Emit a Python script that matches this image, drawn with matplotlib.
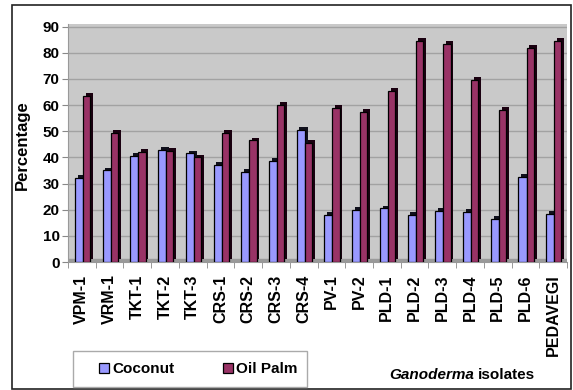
import matplotlib
matplotlib.use("Agg")
import matplotlib.pyplot as plt
from matplotlib.patches import Rectangle
import numpy as np

plt.rcParams['font.family'] = ['Liberation Sans', 'DejaVu Sans']

isolates = ["VPM-1", "VRM-1", "TKT-1", "TKT-2", "TKT-3", "CRS-1", "CRS-2", "CRS-3", "CRS-4",
            "PV-1", "PV-2", "PLD-1", "PLD-2", "PLD-3", "PLD-4", "PLD-5", "PLD-6", "PEDAVEGI"]
coconut = [32, 35, 40.5, 43, 41.5, 37, 34.5, 38.5, 50.5, 18, 20, 20.5, 18, 19.5, 19, 16.5, 32.5, 18.5]
oil_palm = [63.5, 49.5, 42, 42.5, 40, 49.5, 46.5, 60, 45.5, 59, 57.5, 65.5, 84.5, 83.5, 69.5, 58, 82, 84.5]
yticks = list(range(0, 100, 10))

W, H = 573, 390
fig = plt.figure(figsize=(W/100, H/100), dpi=100)
# outer frame
fig.patches.append(Rectangle((12/W, 1/H), (571-12)/W, 384/H, transform=fig.transFigure,
                             fill=False, edgecolor='#222222', linewidth=1.2))

ax = fig.add_axes([68/W, 1-262/H, (567-68)/W, (262-24)/H])
ax.set_facecolor('#C9C9C9')
ax.set_xlim(-0.5, len(isolates)-0.5)
ax.set_ylim(0, 91)

for v in yticks[1:]:
    ax.axhline(v, color='#A2A2A2', linewidth=1.0, zorder=1)
ax.axhspan(0, 1.2, color='#9A9A9A', zorder=1)

x = np.arange(len(isolates))
wc, wo = 0.29, 0.26
dx, dy = 0.1, 1.1
xc = x - 0.25
xo = x + 0.04
# 3D-like shadows (right and top faces)
ax.bar(xc + dx, coconut, width=wc, bottom=dy, align='edge', color='#10101c', zorder=2)
ax.bar(xo + dx, oil_palm, width=wo, bottom=dy, align='edge', color='#1a0010', zorder=2)
ax.bar(xc, coconut, width=wc, align='edge', color='#9999FF', edgecolor='black', linewidth=0.9,
       zorder=3, label='Coconut')
ax.bar(xo, oil_palm, width=wo, align='edge', color='#993366', edgecolor='black', linewidth=0.9,
       zorder=4, label='Oil Palm')

ax.set_yticks(yticks)
ax.set_yticklabels([str(v) for v in yticks], fontsize=11, fontweight='bold')
ax.set_xticks(x)
ax.set_xticklabels(isolates, rotation=90, fontsize=11.5, fontweight='bold')
ax.set_xticks(np.arange(-0.5, len(isolates), 1), minor=True)
ax.tick_params(axis='x', which='major', length=0, pad=9)
ax.tick_params(axis='x', which='minor', length=4, color='#888888')
ax.tick_params(axis='y', length=4, color='#888888', pad=2)
for s in ['top', 'right']:
    ax.spines[s].set_visible(False)
ax.spines['left'].set_color('#999999')
ax.spines['bottom'].set_color('#999999')

fig.text(22/W, 1-145/H, 'Percentage', rotation=90, fontsize=12, fontweight='bold',
         ha='center', va='center')

# legend box and entries
fig.patches.append(Rectangle((73/W, 1-387/H), (307-73)/W, (387-351)/H, transform=fig.transFigure,
                             fill=False, edgecolor='#AAAAAA', linewidth=1.0))
leg = fig.legend(loc='center left', bbox_to_anchor=(99/W, 1-369/H), ncol=2,
                 prop={'weight': 'bold', 'size': 11}, frameon=False,
                 handlelength=0.65, handleheight=0.65, handletextpad=0.2,
                 columnspacing=3.2, borderpad=0, borderaxespad=0)

t1 = fig.text(389/W, 1-375/H, 'Ganoderma', fontsize=11, fontweight='bold', fontstyle='italic',
              ha='left', va='center')
fig.canvas.draw()
bb = t1.get_window_extent()
fig.text(bb.x1/fig.bbox.width + 4/W, 1-375/H, 'isolates', fontsize=11, fontweight='bold',
         ha='left', va='center')

fig.savefig('out.png', dpi=100)
